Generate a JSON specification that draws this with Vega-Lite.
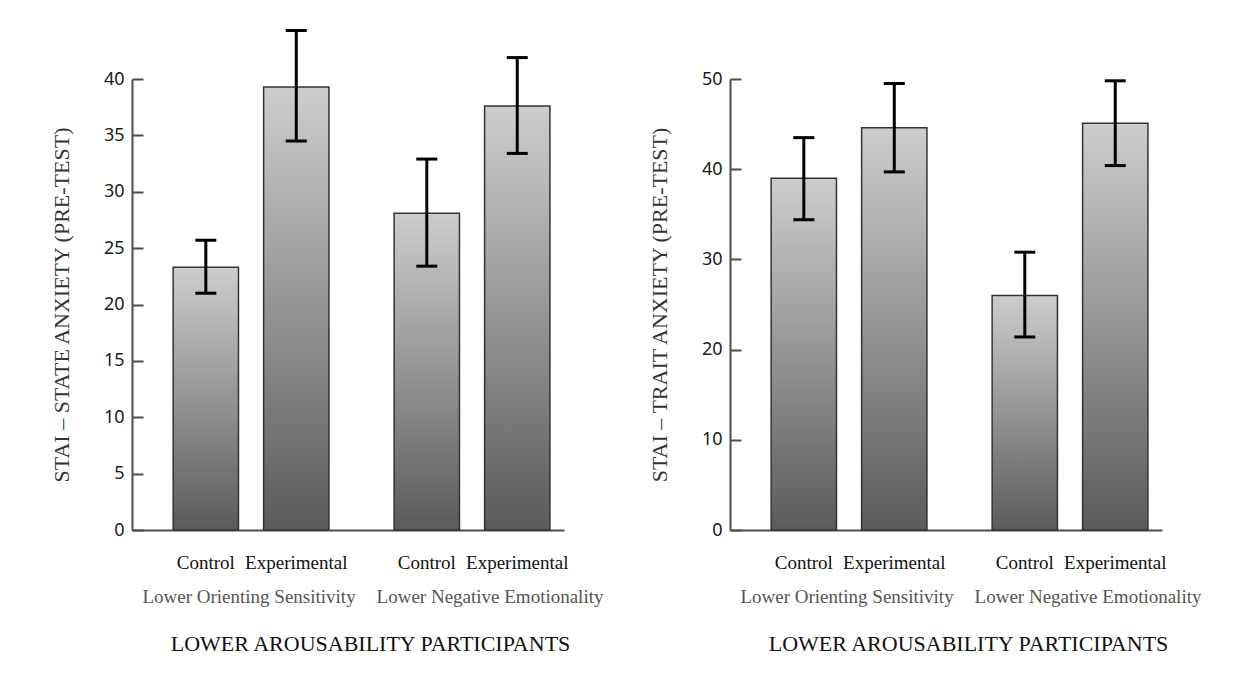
{
  "$schema": "https://vega.github.io/schema/vega-lite/v6.json",
  "background": "white",
  "padding": {"left": 50, "top": 29, "right": 0, "bottom": 0},
  "autosize": {"type": "pad"},
  "spacing": 45,
  "datasets": {
    "state": [
      {"group": "Lower Orienting Sensitivity", "condition": "Control", "mean": 23.3, "lo": 21.0, "hi": 25.7},
      {"group": "Lower Orienting Sensitivity", "condition": "Experimental", "mean": 39.3, "lo": 34.5, "hi": 44.3},
      {"group": "Lower Negative Emotionality", "condition": "Control", "mean": 28.1, "lo": 23.4, "hi": 32.9},
      {"group": "Lower Negative Emotionality", "condition": "Experimental", "mean": 37.6, "lo": 33.4, "hi": 41.9}
    ],
    "trait": [
      {"group": "Lower Orienting Sensitivity", "condition": "Control", "mean": 39.0, "lo": 34.4, "hi": 43.5},
      {"group": "Lower Orienting Sensitivity", "condition": "Experimental", "mean": 44.6, "lo": 39.7, "hi": 49.5},
      {"group": "Lower Negative Emotionality", "condition": "Control", "mean": 26.0, "lo": 21.4, "hi": 30.8},
      {"group": "Lower Negative Emotionality", "condition": "Experimental", "mean": 45.1, "lo": 40.4, "hi": 49.8}
    ]
  },
  "hconcat": [
    {
      "width": 432,
      "height": 451,
      "data": {"name": "state"},
      "encoding": {
        "x": {
          "field": "group", "type": "nominal",
          "sort": ["Lower Orienting Sensitivity", "Lower Negative Emotionality"],
          "scale": {"paddingInner": 0.295, "paddingOuter": 0.125, "align": 0.745},
          "axis": {"title": "LOWER AROUSABILITY PARTICIPANTS"}
        },
        "xOffset": {
          "field": "condition", "type": "nominal", "sort": ["Control", "Experimental"],
          "scale": {"paddingInner": 0.278, "paddingOuter": 0}
        }
      },
      "layer": [
        {
          "mark": {
            "type": "bar", "stroke": "#333333", "strokeWidth": 1.5,
            "fill": {"gradient": "linear", "x1": 0, "y1": 0, "x2": 0, "y2": 1,
              "stops": [{"offset": 0, "color": "#cdcdcd"}, {"offset": 1, "color": "#5b5b5b"}]}
          },
          "encoding": {
            "y": {
              "field": "mean", "type": "quantitative",
              "scale": {"domain": [0, 40], "nice": false},
              "axis": {"title": "STAI – STATE ANXIETY (PRE-TEST)", "values": [0, 5, 10, 15, 20, 25, 30, 35, 40]}
            }
          }
        },
        {
          "mark": {"type": "rule", "strokeWidth": 3, "color": "#000000"},
          "encoding": {"y": {"field": "lo", "type": "quantitative"}, "y2": {"field": "hi"}}
        },
        {
          "mark": {"type": "tick", "thickness": 3, "size": 21, "color": "#000000", "opacity": 1},
          "encoding": {"y": {"field": "lo", "type": "quantitative"}}
        },
        {
          "mark": {"type": "tick", "thickness": 3, "size": 21, "color": "#000000", "opacity": 1},
          "encoding": {"y": {"field": "hi", "type": "quantitative"}}
        },
        {
          "mark": {"type": "text", "dy": 33, "baseline": "middle", "align": "center", "font": "Liberation Serif", "fontSize": 19, "color": "#111111"},
          "encoding": {"y": {"datum": 0, "type": "quantitative"}, "text": {"field": "condition"}}
        }
      ]
    },
    {
      "width": 432,
      "height": 451,
      "data": {"name": "trait"},
      "encoding": {
        "x": {
          "field": "group", "type": "nominal",
          "sort": ["Lower Orienting Sensitivity", "Lower Negative Emotionality"],
          "scale": {"paddingInner": 0.295, "paddingOuter": 0.125, "align": 0.745},
          "axis": {"title": "LOWER AROUSABILITY PARTICIPANTS"}
        },
        "xOffset": {
          "field": "condition", "type": "nominal", "sort": ["Control", "Experimental"],
          "scale": {"paddingInner": 0.278, "paddingOuter": 0}
        }
      },
      "layer": [
        {
          "mark": {
            "type": "bar", "stroke": "#333333", "strokeWidth": 1.5,
            "fill": {"gradient": "linear", "x1": 0, "y1": 0, "x2": 0, "y2": 1,
              "stops": [{"offset": 0, "color": "#cdcdcd"}, {"offset": 1, "color": "#5b5b5b"}]}
          },
          "encoding": {
            "y": {
              "field": "mean", "type": "quantitative",
              "scale": {"domain": [0, 50], "nice": false},
              "axis": {"title": "STAI – TRAIT ANXIETY (PRE-TEST)", "values": [0, 10, 20, 30, 40, 50]}
            }
          }
        },
        {
          "mark": {"type": "rule", "strokeWidth": 3, "color": "#000000"},
          "encoding": {"y": {"field": "lo", "type": "quantitative"}, "y2": {"field": "hi"}}
        },
        {
          "mark": {"type": "tick", "thickness": 3, "size": 21, "color": "#000000", "opacity": 1},
          "encoding": {"y": {"field": "lo", "type": "quantitative"}}
        },
        {
          "mark": {"type": "tick", "thickness": 3, "size": 21, "color": "#000000", "opacity": 1},
          "encoding": {"y": {"field": "hi", "type": "quantitative"}}
        },
        {
          "mark": {"type": "text", "dy": 33, "baseline": "middle", "align": "center", "font": "Liberation Serif", "fontSize": 19, "color": "#111111"},
          "encoding": {"y": {"datum": 0, "type": "quantitative"}, "text": {"field": "condition"}}
        }
      ]
    }
  ],
  "config": {
    "view": {"stroke": null},
    "axisY": {
      "grid": false, "tickSize": -11, "tickWidth": 2, "tickColor": "#4d4d4d",
      "domainColor": "#4d4d4d", "domainWidth": 2,
      "labelFont": "Noto Sans", "labelFontSize": 18, "labelColor": "#1a1a1a", "labelPadding": 19,
      "titleFont": "Liberation Serif", "titleFontSize": 22, "titleFontWeight": "normal", "titleColor": "#333333", "titlePadding": 30
    },
    "axisX": {
      "grid": false, "ticks": false, "domainColor": "#4d4d4d", "domainWidth": 2,
      "labelFont": "Liberation Serif", "labelFontSize": 19, "labelColor": "#555555", "labelAngle": 0,
      "labelPadding": 57, "labelLimit": 0,
      "labelOffset": {"condition": {"test": "datum.value === 'Lower Negative Emotionality'", "value": 18}, "value": -2},
      "titleFont": "Liberation Serif", "titleFontSize": 22, "titleFontWeight": "normal", "titleColor": "#111111", "titlePadding": 27,
      "titleX": 238
    }
  }
}
